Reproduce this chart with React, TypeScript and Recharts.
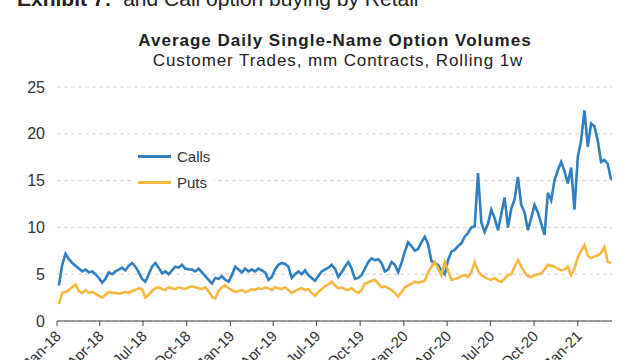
import React from 'react';
import { LineChart, Line, XAxis, YAxis, CartesianGrid, Legend } from 'recharts';

const seriesNames = ['Calls', 'Puts'];
const seriesColors = ['#2f7fc1', '#f5b942'];

const calls = [
  3.8, 6.0, 7.2, 6.6, 6.2, 5.9, 5.6, 5.3, 5.5, 5.2, 5.3, 5.0, 4.6, 4.1, 4.5, 5.2, 5.0, 5.3, 5.5, 5.7,
  5.4, 5.9, 6.2, 5.8, 5.2, 4.5, 4.2, 5.0, 5.8, 6.2, 5.7, 5.1, 5.3, 5.0, 5.4, 5.8, 5.7, 6.0, 5.6, 5.5,
  5.5, 5.3, 5.6, 5.2, 4.8, 4.4, 4.0, 4.6, 4.5, 4.8, 4.4, 4.2, 4.9, 5.8, 5.5, 5.2, 5.6, 5.3, 5.5, 5.3,
  5.6, 5.4, 5.2, 4.4, 4.7, 5.5, 6.0, 6.2, 6.1, 5.8, 4.6, 5.0, 5.3, 5.0, 5.4, 4.9, 4.6, 4.3, 4.8, 5.3,
  5.5, 5.7, 6.0, 5.6, 4.7, 5.2, 5.8, 6.3, 5.6, 4.5, 4.6, 4.9, 5.6, 6.3, 6.7, 6.5, 6.6, 6.2, 5.3, 5.5,
  6.3, 6.0, 5.2, 6.2, 7.4, 8.4, 8.0, 7.5, 7.7, 8.4, 9.0, 8.2, 6.4, 6.2, 6.0, 5.4, 5.0, 6.5, 7.4, 7.6,
  8.0, 8.3, 9.0, 9.4, 10.0, 10.1, 15.8, 10.5, 9.5, 10.4, 11.9, 11.0, 9.7, 11.4, 13.2, 10.0, 12.0, 13.0, 15.4, 12.4,
  11.6, 9.7, 11.0, 12.4, 11.6, 10.4, 9.2, 13.7, 12.9, 15.0, 16.1, 17.0, 16.0, 14.7, 16.4, 11.9, 17.5, 19.3, 22.5, 18.6,
  21.1, 20.8, 19.3, 17.0, 17.2, 16.8, 15.1,
];

const puts = [
  1.8, 3.0, 3.1, 3.3, 3.6, 3.9, 3.2, 3.0, 3.3, 3.0, 3.1, 2.9, 2.7, 2.5, 2.8, 3.1, 3.0, 3.0, 2.9, 3.0,
  3.1, 3.0, 3.2, 3.3, 3.5, 3.4, 2.5, 2.8, 3.2, 3.5, 3.6, 3.4, 3.3, 3.6, 3.5, 3.4, 3.6, 3.5, 3.4, 3.6,
  3.7, 3.6, 3.5, 3.4, 3.6, 3.2, 2.6, 2.4, 3.2, 3.6, 3.8, 3.5, 3.3, 3.1, 3.2, 3.3, 3.1, 3.2, 3.4, 3.3,
  3.5, 3.4, 3.6, 3.5, 3.3, 3.6, 3.5, 3.4, 3.6, 3.3, 3.0, 3.2, 3.4, 3.5, 3.3, 3.4, 3.0, 2.7, 3.1, 3.4,
  3.7, 3.9, 4.2, 3.8, 3.5, 3.6, 3.4, 3.3, 3.5, 3.2, 3.0, 3.3, 4.0, 4.1, 4.3, 4.4, 4.0, 3.6, 3.7, 3.5,
  3.3, 3.0, 2.6, 3.1, 3.6, 3.8, 4.0, 4.2, 4.1, 4.2, 4.3, 5.2, 5.8, 6.3, 5.6, 4.9, 6.3, 5.4, 4.4, 4.5,
  4.6, 4.8, 4.9, 4.7, 5.2, 6.3, 5.4, 4.9, 4.7, 4.5, 4.4, 4.6, 4.3, 4.2, 4.5, 4.9, 5.0, 5.8, 6.5, 5.8,
  5.2, 4.8, 4.7, 4.9, 5.0, 5.1, 5.5, 6.0, 5.9, 5.8, 5.6, 5.4, 5.5, 5.8, 4.9, 5.6, 6.8, 7.5, 8.1, 7.0,
  6.7, 6.9, 7.0, 7.3, 7.9, 6.3, 6.2,
];

const firstWeek = [2018, 0, 5];
const tickDates = [
  [2018, 0, 1], [2018, 3, 1], [2018, 6, 1], [2018, 9, 1],
  [2019, 0, 1], [2019, 3, 1], [2019, 6, 1], [2019, 9, 1],
  [2020, 0, 1], [2020, 3, 1], [2020, 6, 1], [2020, 9, 1],
  [2021, 0, 1],
];
const tickLabels = [
  'Jan-18', 'Apr-18', 'Jul-18', 'Oct-18', 'Jan-19', 'Apr-19', 'Jul-19', 'Oct-19',
  'Jan-20', 'Apr-20', 'Jul-20', 'Oct-20', 'Jan-21',
];
const domainEndDate = [2021, 2, 14];
const yTicks = [0, 5, 10, 15, 20, 25];

const DAY = 86400000;
const toTs = (d: number[]) => Date.UTC(d[0], d[1], d[2]);
const t0 = toTs(firstWeek);
const data = calls.map((c, i) => ({ t: t0 + i * 7 * DAY, calls: c, puts: puts[i] }));
const xTicks = tickDates.map(toTs);

const FONT = '"Liberation Sans", Arial, sans-serif';

const XTick = (props: any) => {
  const { x, y, payload } = props;
  const idx = xTicks.indexOf(payload.value);
  const label = idx >= 0 ? tickLabels[idx] : '';
  const tx = x + 5;
  const ty = y + 9;
  return (
    <text
      x={tx}
      y={ty}
      transform={`rotate(-45 ${tx} ${ty})`}
      textAnchor="end"
      fill="#333"
      fontSize={15}
      fontFamily={FONT}
    >
      {label}
    </text>
  );
};

const LegendContent = () => (
  <div style={{ background: '#fff', fontFamily: FONT, fontSize: 15, color: '#333', padding: '0px 4px' }}>
    {seriesNames.map((n, i) => (
      <div key={n} style={{ display: 'flex', alignItems: 'center', height: 26 }}>
        <span style={{ display: 'inline-block', width: 33, height: 3, background: seriesColors[i], marginRight: 6 }} />
        <span>{n}</span>
      </div>
    ))}
  </div>
);

export default function App() {
  return (
    <div style={{ position: 'absolute', left: 0, top: 0, width: 640, height: 360, background: '#fff', overflow: 'hidden' }}>
      <div style={{ position: 'absolute', left: 17, top: -13, fontFamily: FONT, fontSize: 21, color: '#222', whiteSpace: 'nowrap' }}>
        <b>Exhibit 7:</b>&nbsp; and Call option buying by Retail
      </div>
      <div style={{ position: 'absolute', left: 0, width: 670, top: 31, textAlign: 'center', fontFamily: FONT, fontSize: 17, letterSpacing: 1, fontWeight: 'bold', color: '#222' }}>
        Average Daily Single-Name Option Volumes
      </div>
      <div style={{ position: 'absolute', left: 0, width: 676, top: 51, textAlign: 'center', fontFamily: FONT, fontSize: 17, letterSpacing: 0.9, color: '#222' }}>
        Customer Trades, mm Contracts, Rolling 1w
      </div>
      <LineChart width={640} height={360} data={data} margin={{ top: 87, right: 28, left: 0, bottom: 0 }}>
        <CartesianGrid vertical={false} stroke="#cfcfcf" strokeDasharray="4 3" />
        <XAxis
          dataKey="t"
          type="number"
          scale="time"
          domain={[xTicks[0], toTs(domainEndDate)]}
          ticks={xTicks}
          tick={<XTick />}
          height={39}
          stroke="#444"
          tickSize={5}
          interval={0}
        />
        <YAxis
          domain={[0, 25]}
          ticks={yTicks}
          width={57}
          axisLine={false}
          tickLine={false}
          tickMargin={6}
          tick={{ fill: '#333', fontSize: 16, fontFamily: FONT }}
        />
        <Legend
          layout="horizontal"
          align="center"
          verticalAlign="middle"
          content={<LegendContent />}
          wrapperStyle={{ position: 'absolute', left: 134, top: 143, width: 'auto', height: 'auto' }}
        />
        <Line dataKey="calls" name={seriesNames[0]} stroke={seriesColors[0]} strokeWidth={2.6} dot={false} isAnimationActive={false} />
        <Line dataKey="puts" name={seriesNames[1]} stroke={seriesColors[1]} strokeWidth={2.6} dot={false} isAnimationActive={false} />
      </LineChart>
    </div>
  );
}
